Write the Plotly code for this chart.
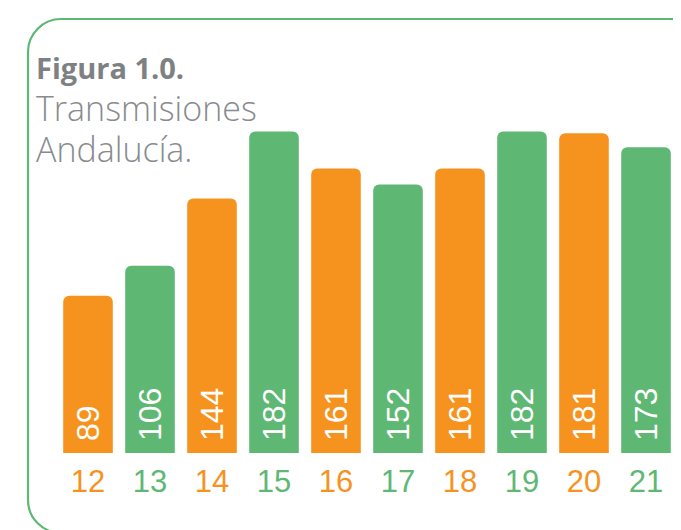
import plotly.graph_objects as go

# ---- data ----
years = ["12", "13", "14", "15", "16", "17", "18", "19", "20", "21"]
values = [89, 106, 144, 182, 161, 152, 161, 182, 181, 173]
ORANGE = "#f6931f"
GREEN = "#5eb874"
bar_colors = [ORANGE if i % 2 == 0 else GREEN for i in range(len(years))]
title_bold = "Figura 1.0."
title_lines = ["Transmisiones", "Andalucía."]

W, H = 681, 530
OFF = 8  # page offset of the figure in the browser
ML, MT, MB = 57 - OFF, 100 - OFF, 530 - (453 - OFF)
PW = 620
MR = W - ML - PW
PH = H - MT - MB
YMAX = PH / 1.767

def px(x):  # x in figure pixels -> paper
    return (x - ML) / PW

def py(y):  # y in figure pixels -> paper
    return (H - MB - y) / PH

fig = go.Figure()
fig.add_trace(go.Bar(
    x=years,
    y=values,
    marker=dict(color=bar_colors, cornerradius=6, line=dict(width=0)),
    text=["\u00a0" + str(v) for v in values],
    textposition="inside",
    insidetextanchor="start",
    textangle=-90,
    textfont=dict(family="Liberation Sans, Arial, sans-serif", size=32, color="white"),
    hoverinfo="skip",
))

ticktext = ["<span style='color:%s'>%s</span>" % (c, t) for c, t in zip(bar_colors, years)]

fig.update_layout(
    width=W, height=H,
    margin=dict(l=ML, r=MR, t=MT, b=MB),
    paper_bgcolor="white",
    plot_bgcolor="white",
    bargap=0.2,
    showlegend=False,
    xaxis=dict(
        type="category",
        tickmode="array",
        tickvals=years,
        ticktext=ticktext,
        tickfont=dict(family="Liberation Sans, Arial, sans-serif", size=31),
        ticks="",
        ticklabelstandoff=7,
        showgrid=False,
        zeroline=False,
        showline=False,
        range=[-0.5, 9.5],
    ),
    yaxis=dict(
        range=[0, YMAX],
        visible=False,
        showgrid=False,
        zeroline=False,
    ),
)

# rounded border (pixel geometry converted to paper coords)
r = 33
k = 0.5523
L, T, R, B = 28 - OFF, 19 - OFF, 703 - OFF, 533 - OFF
path = (
    f"M {px(L)},{py(B - r)} "
    f"L {px(L)},{py(T + r)} "
    f"C {px(L)},{py(T + r - k * r)} {px(L + r - k * r)},{py(T)} {px(L + r)},{py(T)} "
    f"L {px(R - r)},{py(T)} "
    f"C {px(R - r + k * r)},{py(T)} {px(R)},{py(T + r - k * r)} {px(R)},{py(T + r)} "
    f"L {px(R)},{py(B - r)} "
    f"C {px(R)},{py(B - r + k * r)} {px(R - r + k * r)},{py(B)} {px(R - r)},{py(B)} "
    f"L {px(L + r)},{py(B)} "
    f"C {px(L + r - k * r)},{py(B)} {px(L)},{py(B - r + k * r)} {px(L)},{py(B - r)} Z"
)
fig.add_shape(type="path", xref="paper", yref="paper", path=path,
              line=dict(color=GREEN, width=2.2), fillcolor="rgba(0,0,0,0)", layer="above")

title_text = (
    f"<span style='font-size:29px;color:#7e8184'><b>{title_bold}</b></span><br>"
    + "<br>".join(f"<span style='font-size:34px'>{t}</span>" for t in title_lines)
)
fig.add_annotation(
    xref="paper", yref="paper",
    x=px(26), y=py(38), xanchor="left", yanchor="top",
    align="left", showarrow=False,
    text=title_text,
    font=dict(family="Open Sans", size=32, color="#888b8e", weight=300),
)

fig.write_html("out.html")
